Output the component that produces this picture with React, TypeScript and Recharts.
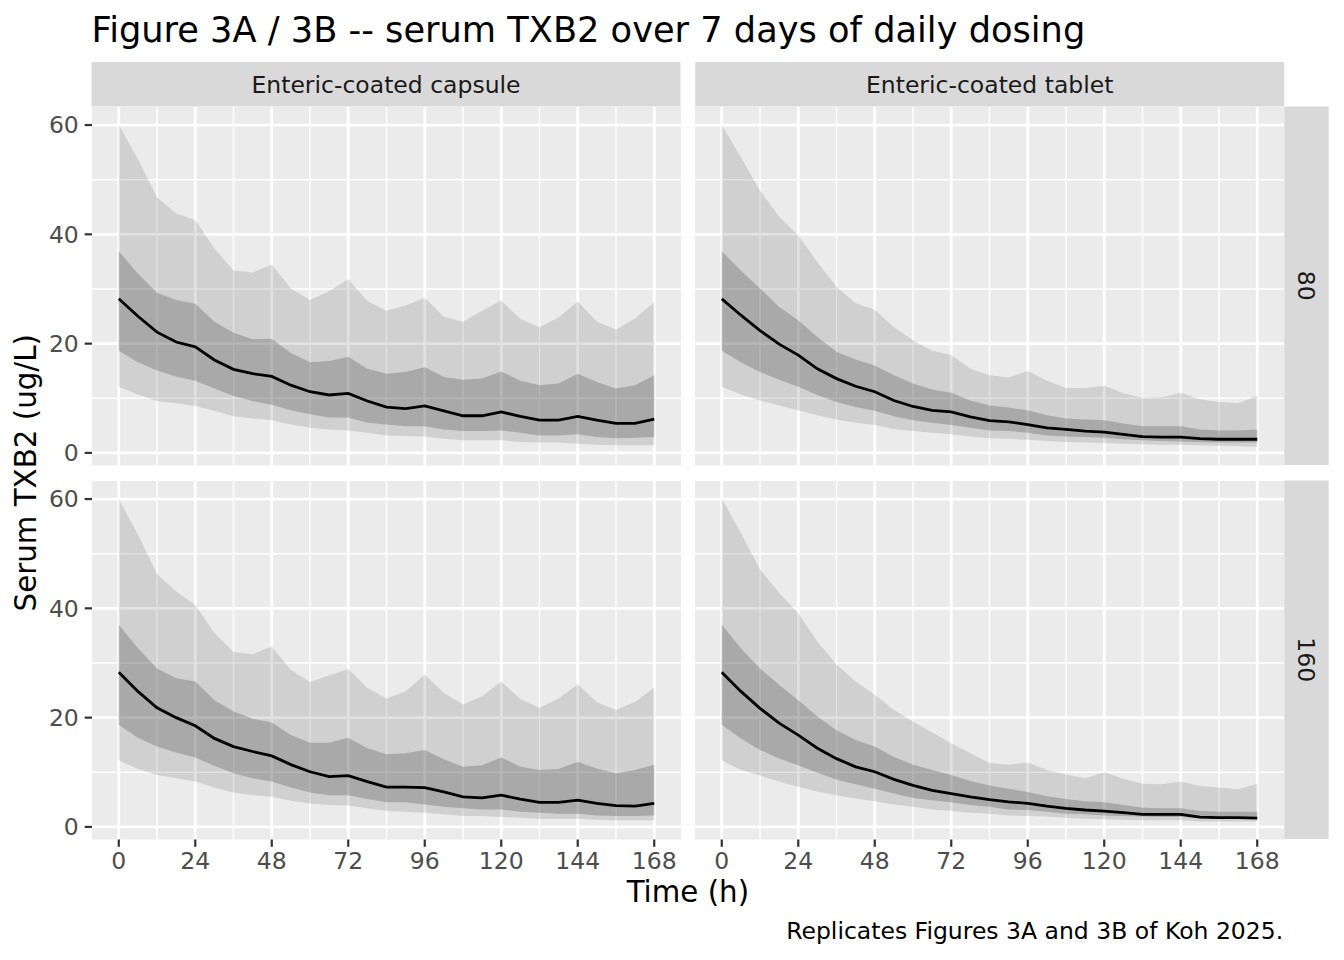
import { ComposedChart, Area, Line, XAxis, YAxis, CartesianGrid } from 'recharts'

// sampling times (h)
const hours = [0, 6, 12, 18, 24, 30, 36, 42, 48, 54, 60, 66, 72, 78, 84, 90, 96, 102, 108, 114, 120, 126, 132, 138, 144, 150, 156, 162, 168]

// Enteric-coated capsule, 80 mg
const capsule80P95 = [60, 53.8, 46.8, 43.8, 42.6, 37.4, 33.4, 33.0, 34.5, 30.1, 28.0, 29.6, 31.8, 27.8, 26.0, 27.0, 28.4, 24.9, 24.0, 26.0, 27.9, 24.5, 23.0, 24.8, 27.7, 24.0, 22.6, 24.6, 27.6]
const capsule80P75 = [36.9, 32.8, 29.3, 28.0, 27.3, 24.0, 22.0, 20.8, 20.9, 18.3, 16.6, 16.8, 17.6, 15.4, 14.5, 14.8, 15.7, 13.9, 13.4, 13.6, 14.9, 13.2, 12.4, 12.7, 14.5, 13.0, 11.8, 12.4, 14.2]
const capsule80Median = [28.2, 25.0, 22.1, 20.3, 19.4, 17.0, 15.3, 14.5, 14.0, 12.4, 11.2, 10.6, 10.9, 9.5, 8.4, 8.1, 8.6, 7.7, 6.8, 6.8, 7.5, 6.7, 6.0, 6.0, 6.7, 6.0, 5.4, 5.4, 6.2]
const capsule80P25 = [18.7, 16.6, 15.1, 14.0, 13.2, 11.8, 10.4, 9.5, 8.8, 7.8, 7.1, 6.5, 6.5, 5.5, 5.2, 4.9, 4.9, 4.3, 4.0, 4.0, 4.1, 3.7, 3.2, 3.2, 3.4, 2.9, 2.7, 2.8, 2.9]
const capsule80P05 = [12.1, 10.7, 9.5, 9.1, 8.6, 7.7, 6.7, 6.3, 6.0, 5.2, 4.6, 4.3, 4.1, 3.7, 3.2, 3.1, 3.0, 2.6, 2.3, 2.3, 2.3, 2.0, 1.9, 1.9, 1.7, 1.5, 1.4, 1.4, 1.4]

// Enteric-coated tablet, 80 mg
const tablet80P95 = [60, 54.1, 48.0, 43.2, 39.8, 34.9, 30.4, 27.4, 26.2, 23.0, 20.6, 18.7, 17.9, 15.4, 14.2, 13.8, 15.0, 13.2, 11.9, 11.9, 12.3, 10.9, 10.1, 10.2, 11.0, 9.8, 9.3, 9.1, 10.5]
const tablet80P75 = [36.9, 33.4, 30.1, 26.7, 24.3, 21.2, 18.5, 17.1, 16.0, 14.2, 12.7, 11.6, 11.0, 9.6, 8.7, 8.3, 7.8, 6.9, 6.3, 6.1, 6.0, 5.4, 4.9, 4.9, 4.9, 4.3, 4.1, 4.1, 4.3]
const tablet80Median = [28.2, 25.2, 22.4, 19.9, 17.9, 15.4, 13.6, 12.2, 11.2, 9.6, 8.5, 7.8, 7.5, 6.6, 5.9, 5.7, 5.2, 4.6, 4.3, 4.0, 3.8, 3.4, 3.0, 2.9, 2.9, 2.6, 2.5, 2.5, 2.5]
const tablet80P25 = [18.7, 16.6, 14.8, 13.4, 12.1, 10.6, 9.3, 8.4, 7.7, 6.7, 6.0, 5.5, 5.1, 4.6, 4.1, 4.0, 3.7, 3.2, 3.0, 2.9, 2.8, 2.5, 2.3, 2.2, 2.1, 2.0, 1.9, 1.9, 1.9]
const tablet80P05 = [12.1, 10.7, 9.6, 8.7, 7.8, 6.9, 6.1, 5.5, 5.1, 4.4, 4.0, 3.7, 3.4, 3.0, 2.7, 2.6, 2.4, 2.2, 2.0, 1.9, 1.8, 1.7, 1.6, 1.5, 1.5, 1.4, 1.3, 1.2, 1.1]

// Enteric-coated capsule, 160 mg
const capsule160P95 = [60, 53.5, 46.3, 43.1, 40.6, 35.5, 32.0, 31.6, 33.0, 28.7, 26.5, 27.7, 28.9, 25.4, 23.5, 24.8, 27.9, 24.5, 22.4, 23.9, 26.6, 23.4, 21.8, 23.5, 26.1, 22.8, 21.4, 22.9, 25.5]
const capsule160P75 = [37.0, 32.7, 29.0, 27.2, 26.6, 23.2, 21.1, 19.8, 19.1, 16.8, 15.4, 15.4, 16.3, 14.4, 13.3, 13.5, 14.1, 12.4, 11.0, 11.3, 12.7, 11.0, 10.4, 10.6, 11.9, 10.7, 9.8, 10.4, 11.4]
const capsule160Median = [28.3, 24.8, 21.8, 20.0, 18.5, 16.2, 14.7, 13.8, 13.0, 11.4, 10.1, 9.2, 9.4, 8.3, 7.3, 7.3, 7.2, 6.4, 5.5, 5.3, 5.8, 5.1, 4.5, 4.5, 4.9, 4.3, 3.9, 3.8, 4.3]
const capsule160P25 = [18.7, 16.3, 14.7, 13.6, 12.7, 11.2, 9.8, 8.9, 8.3, 7.2, 6.3, 5.8, 5.8, 5.1, 4.5, 4.5, 4.1, 3.7, 3.4, 3.2, 3.2, 2.8, 2.6, 2.4, 2.4, 2.1, 2.0, 2.0, 2.1]
const capsule160P05 = [12.2, 10.6, 9.5, 8.9, 8.3, 7.2, 6.3, 5.8, 5.5, 4.8, 4.3, 4.0, 3.9, 3.4, 2.9, 2.8, 2.6, 2.3, 2.0, 2.0, 1.8, 1.7, 1.5, 1.5, 1.5, 1.3, 1.2, 1.2, 1.2]

// Enteric-coated tablet, 160 mg
const tablet160P95 = [60.1, 53.8, 47.1, 42.8, 39.1, 33.9, 29.7, 26.6, 24.2, 21.4, 19.3, 17.3, 15.3, 13.5, 11.7, 11.4, 11.8, 10.4, 9.6, 8.9, 10.0, 8.8, 7.9, 7.8, 8.3, 7.5, 7.2, 6.9, 7.9]
const tablet160P75 = [37.0, 32.7, 29.0, 26.0, 23.2, 20.2, 17.7, 15.9, 14.7, 12.8, 11.4, 10.4, 9.5, 8.4, 7.6, 7.0, 6.4, 5.6, 5.1, 4.7, 4.5, 4.0, 3.5, 3.4, 3.4, 2.9, 2.8, 2.8, 2.8]
const tablet160Median = [28.3, 24.8, 21.7, 19.0, 16.8, 14.4, 12.5, 11.0, 10.1, 8.7, 7.6, 6.7, 6.1, 5.5, 5.0, 4.6, 4.3, 3.8, 3.4, 3.1, 2.9, 2.6, 2.3, 2.3, 2.3, 1.8, 1.7, 1.7, 1.6]
const tablet160P25 = [18.7, 16.2, 14.1, 12.5, 11.3, 9.9, 8.7, 7.8, 7.0, 6.1, 5.3, 4.9, 4.5, 4.0, 3.7, 3.2, 3.1, 2.8, 2.4, 2.3, 2.1, 2.0, 1.9, 1.8, 1.8, 1.6, 1.5, 1.5, 1.5]
const tablet160P05 = [12.2, 10.4, 9.4, 8.3, 7.3, 6.5, 5.8, 5.2, 4.7, 4.1, 3.7, 3.2, 2.9, 2.6, 2.4, 2.1, 2.0, 1.9, 1.7, 1.5, 1.4, 1.3, 1.2, 1.2, 1.2, 1.0, 1.0, 1.0, 1.0]

const formulations = ['Enteric-coated capsule', 'Enteric-coated tablet']
const doses = ['80', '160']

const xTicks = [0, 24, 48, 72, 96, 120, 144, 168]
const xMinor = [12, 36, 60, 84, 108, 132, 156]
const yTicks = [0, 20, 40, 60]
const yMinor = [10, 30, 50]

const X_DOMAIN: [number, number] = [-8.4, 176.4]
const Y_DOMAIN: [number, number] = [-2.3, 63.3]

const FONT = '"DejaVu Sans", sans-serif'
const PANEL_W = 589
const PANEL_H = 358.5
const Y_AXIS_W = 60
const X_AXIS_H = 46
const TOP_PAD = 10
const BOTTOM_PAD = 10
const COL_X = [91.5, 695.2]
const ROW_Y = [106.5, 480.5]

function buildRows(p05: number[], p25: number[], med: number[], p75: number[], p95: number[]) {
  return hours.map((t, i) => ({
    t,
    outer: [p05[i], p95[i]],
    inner: [p25[i], p75[i]],
    median: med[i],
  }))
}

const panels = [
  { row: 0, col: 0, rows: buildRows(capsule80P05, capsule80P25, capsule80Median, capsule80P75, capsule80P95) },
  { row: 0, col: 1, rows: buildRows(tablet80P05, tablet80P25, tablet80Median, tablet80P75, tablet80P95) },
  { row: 1, col: 0, rows: buildRows(capsule160P05, capsule160P25, capsule160Median, capsule160P75, capsule160P95) },
  { row: 1, col: 1, rows: buildRows(tablet160P05, tablet160P25, tablet160Median, tablet160P75, tablet160P95) },
]

const tickStyle = { fill: '#4D4D4D', fontSize: 23.5, fontFamily: FONT }
const tickLineStyle = { stroke: '#333333', strokeWidth: 2.2 }

function Panel({ rows, row, col }: { rows: any[]; row: number; col: number }) {
  const showY = col === 0
  const showX = row === 1
  // padding so the tick labels at the panel edges are never clipped
  const bottom = showX ? 0 : BOTTOM_PAD
  const width = PANEL_W + (showY ? Y_AXIS_W : 0)
  const height = TOP_PAD + PANEL_H + (showX ? X_AXIS_H : 0) + bottom
  return (
    <div style={{ position: 'absolute', left: COL_X[col] - (showY ? Y_AXIS_W : 0), top: ROW_Y[row] - TOP_PAD }}>
      <ComposedChart width={width} height={height} data={rows} margin={{ top: TOP_PAD, right: 0, bottom, left: 0 }}>
        <CartesianGrid fill="#EBEBEB" stroke="#FFFFFF" strokeWidth={1.4} verticalValues={xMinor} horizontalValues={yMinor} />
        <CartesianGrid stroke="#FFFFFF" strokeWidth={2.8} verticalValues={xTicks} horizontalValues={yTicks} />
        <XAxis
          dataKey="t"
          type="number"
          domain={X_DOMAIN}
          ticks={xTicks}
          interval={0}
          hide={!showX}
          height={X_AXIS_H}
          axisLine={false}
          tickSize={7.3}
          tickMargin={5.9}
          tick={tickStyle}
          tickLine={tickLineStyle}
        />
        <YAxis
          type="number"
          domain={Y_DOMAIN}
          ticks={yTicks}
          interval={0}
          hide={!showY}
          width={Y_AXIS_W}
          axisLine={false}
          tickSize={7.3}
          tickMargin={5.9}
          tick={tickStyle}
          tickLine={tickLineStyle}
        />
        <Area dataKey="outer" type="linear" stroke="none" fill="#333333" fillOpacity={0.15} isAnimationActive={false} />
        <Area dataKey="inner" type="linear" stroke="none" fill="#333333" fillOpacity={0.25} isAnimationActive={false} />
        <Line dataKey="median" type="linear" stroke="#000000" strokeWidth={2.8} dot={false} isAnimationActive={false} />
      </ComposedChart>
    </div>
  )
}

export default function App() {
  const stripRight = COL_X[1] + PANEL_W
  const plotCenterX = (COL_X[0] + stripRight) / 2
  const plotCenterY = (ROW_Y[0] + ROW_Y[1] + PANEL_H) / 2
  return (
    <div style={{ position: 'absolute', left: 0, top: 0, width: 1344, height: 960, background: '#FFFFFF', fontFamily: FONT }}>
      <svg width={1344} height={960} style={{ position: 'absolute', left: 0, top: 0 }}>
        <text x={COL_X[0]} y={42} fontSize={35.2} fill="#000000" fontFamily={FONT}>
          Figure 3A / 3B -- serum TXB2 over 7 days of daily dosing
        </text>
        {formulations.map((f, i) => (
          <g key={f}>
            <rect x={COL_X[i]} y={62} width={PANEL_W} height={ROW_Y[0] - 62} fill="#D9D9D9" />
            <text x={COL_X[i] + PANEL_W / 2} y={92.8} fontSize={23.5} fill="#1A1A1A" textAnchor="middle" fontFamily={FONT}>
              {f}
            </text>
          </g>
        ))}
        {doses.map((d, i) => (
          <g key={d}>
            <rect x={stripRight} y={ROW_Y[i]} width={44.5} height={PANEL_H} fill="#D9D9D9" />
            <text
              transform={`translate(${stripRight + 22.25}, ${ROW_Y[i] + PANEL_H / 2}) rotate(90)`}
              y={8.6}
              fontSize={23.5}
              fill="#1A1A1A"
              textAnchor="middle"
              fontFamily={FONT}
            >
              {d}
            </text>
          </g>
        ))}
        <text x={plotCenterX} y={901.5} fontSize={29.3} fill="#000000" textAnchor="middle" fontFamily={FONT}>
          Time (h)
        </text>
        <text
          transform={`translate(36, ${plotCenterY}) rotate(-90)`}
          fontSize={29.3}
          fill="#000000"
          textAnchor="middle"
          fontFamily={FONT}
        >
          Serum TXB2 (ug/L)
        </text>
        <text x={stripRight - 1} y={939} fontSize={23.5} fill="#000000" textAnchor="end" fontFamily={FONT}>
          Replicates Figures 3A and 3B of Koh 2025.
        </text>
      </svg>
      {panels.map(p => (
        <Panel key={`${p.row}-${p.col}`} rows={p.rows} row={p.row} col={p.col} />
      ))}
    </div>
  )
}
